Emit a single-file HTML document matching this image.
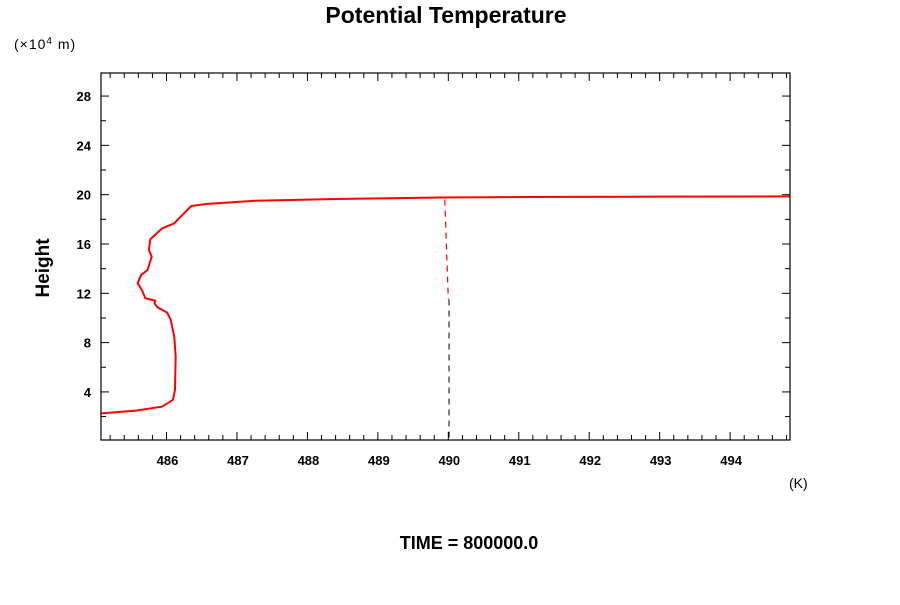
<!DOCTYPE html>
<html><head><meta charset="utf-8"><style>
body{margin:0;background:#fff;font-family:"Liberation Sans",sans-serif}
</style></head><body>
<svg width="900" height="600" xmlns="http://www.w3.org/2000/svg" font-family="Liberation Sans, sans-serif">
<text x="446" y="23" text-anchor="middle" font-size="23" font-weight="bold">Potential Temperature</text>
<text x="14" y="49" font-size="14" letter-spacing="1">(×10<tspan dy="-5" font-size="10">4</tspan><tspan dy="5"> m)</tspan></text>
<text transform="translate(49,268) rotate(-90)" text-anchor="middle" font-size="19" font-weight="bold">Height</text>
<text x="789" y="488" font-size="14">(K)</text>
<text x="469" y="549" text-anchor="middle" font-size="18" font-weight="bold">TIME = 800000.0</text>
<g id="axes"></g>
<g id="marks"></g>
<rect x="101" y="73" width="689" height="367" fill="none" stroke="#000" stroke-width="1.2"/>
</svg>
<script>
const xTicks=[486,487,488,489,490,491,492,493,494];
const yTicks=[4,8,12,16,20,24,28];
const profileK=[485.07,485.57,485.94,486.09,486.12,486.13,486.11,486.06,486.01,485.87,485.83,485.84,485.70,485.65,485.59,485.64,485.73,485.79,485.75,485.77,485.94,486.11,486.35,486.56,487.27,488.5,489.9,491.5,493.0,494.85];
const profileH=[2.26,2.48,2.81,3.35,4.16,6.86,8.48,9.84,10.43,10.87,11.19,11.40,11.6,12.27,12.81,13.49,13.89,14.97,15.52,16.38,17.27,17.68,19.08,19.24,19.51,19.66,19.77,19.82,19.84,19.86];
const redDashK=[489.95,490.0];
const redDashH=[19.6,11.5];
const blackDashK=[490.01,490.01];
const blackDashH=[11.5,0];
const X0=101,X1=790,Y0=440,Y1=73,KMIN=485.07,KMAX=494.85,HMIN=0.1,HMAX=29.87;
const sx=k=>X0+(k-KMIN)/(KMAX-KMIN)*(X1-X0);
const sy=h=>Y0-(h-HMIN)/(HMAX-HMIN)*(Y0-Y1);
const NS="http://www.w3.org/2000/svg";
const axes=document.getElementById('axes'),marks=document.getElementById('marks');
function ln(p,x1,y1,x2,y2,c,w){const l=document.createElementNS(NS,'line');l.setAttribute('x1',x1);l.setAttribute('y1',y1);l.setAttribute('x2',x2);l.setAttribute('y2',y2);l.setAttribute('stroke',c||'#000');l.setAttribute('stroke-width',w||1);p.appendChild(l);return l;}
for(let k=485.2;k<494.85;k+=0.2){const x=sx(k);const major=Math.abs(k-Math.round(k))<0.01;const len=major?8:5;
const a=ln(axes,x,Y0,x,Y0-len);
const b=ln(axes,x,Y1,x,Y1+len);}
for(let h=2;h<=29;h+=2){const y=sy(h);const len=h%4===0?8:5;
const a=ln(axes,X0,y,X0+len,y);
const b=ln(axes,X1,y,X1-len,y);}
xTicks.forEach(k=>{const t=document.createElementNS(NS,'text');t.setAttribute('x',sx(k)+1);t.setAttribute('y',465);t.setAttribute('text-anchor','middle');t.setAttribute('font-size','13');t.setAttribute('font-weight','bold');t.textContent=k;


axes.appendChild(t);});
yTicks.forEach(h=>{const t=document.createElementNS(NS,'text');t.setAttribute('x',91);t.setAttribute('y',sy(h)+5);t.setAttribute('text-anchor','end');t.setAttribute('font-size','13');t.setAttribute('font-weight','bold');t.textContent=h;


axes.appendChild(t);});
function poly(K,H,c,w,dash,name){const p=document.createElementNS(NS,'polyline');p.setAttribute('points',K.map((k,i)=>sx(k)+','+sy(H[i])).join(' '));p.setAttribute('fill','none');p.setAttribute('stroke',c);p.setAttribute('stroke-width',w);if(dash)p.setAttribute('stroke-dasharray',dash);


marks.appendChild(p);}
poly(profileK,profileH,'#f00',2,null,'theta-profile-line');
poly(redDashK,redDashH,'#f00',1.2,'6,5','red-dashed-line');
poly(blackDashK,blackDashH,'#000',1,'6,5','black-dashed-line');
</script>
</body></html>
